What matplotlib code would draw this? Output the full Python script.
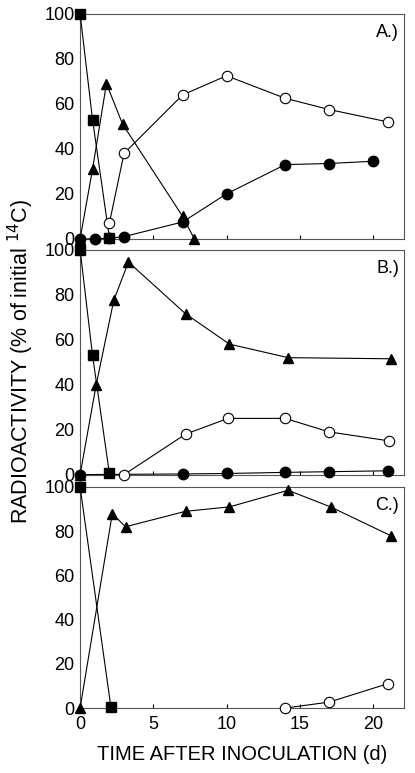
import numpy as np
import matplotlib
matplotlib.use("Agg")
import matplotlib.pyplot as plt

plt.rcParams['font.family'] = ['Liberation Sans', 'DejaVu Sans']

# panel A
a_sq_x = [0, 0.85, 2]
a_sq_y = [100, 53, 0.5]
a_tri_x = [0, 0.85, 1.8, 2.9, 7, 7.8]
a_tri_y = [0, 31, 69, 51, 10, 0]
a_open_x = [2, 3, 7, 10, 14, 17, 21]
a_open_y = [7, 38, 64, 72.5, 62.5, 57.5, 52]
a_fill_x = [0, 1, 2, 3, 7, 10, 14, 17, 20]
a_fill_y = [0, 0, 0.3, 1, 7.5, 20, 33, 33.5, 34.5]

# panel B
b_sq_x = [0, 0.85, 2]
b_sq_y = [100, 53, 0.5]
b_tri_x = [0, 1.1, 2.3, 3.3, 7.2, 10.2, 14.2, 21.2]
b_tri_y = [0, 40, 77.5, 94.5, 71.5, 58, 52, 51.5]
b_open_x = [3, 7.2, 10.1, 14, 17, 21.1]
b_open_y = [0, 18, 25, 25, 19, 15]
b_fill_x = [0, 7, 10, 14, 17, 21]
b_fill_y = [0, 0.3, 0.5, 1, 1.3, 1.7]

# panel C
c_sq_x = [0, 2.1]
c_sq_y = [100, 0.6]
c_tri_x = [0, 2.2, 3.1, 7.2, 10.2, 14.2, 17.1, 21.2]
c_tri_y = [0, 88, 82, 89, 91, 98.5, 91, 78]
c_open_x = [14, 17, 21]
c_open_y = [0, 2.7, 11]

fig = plt.figure(figsize=(4.15, 7.73), dpi=100)
boxes = [(0.193, 0.691, 0.78, 0.291),
         (0.193, 0.386, 0.78, 0.291),
         (0.193, 0.084, 0.78, 0.286)]
labels = ['A.)', 'B.)', 'C.)']
panels = [
    (a_sq_x, a_sq_y, a_tri_x, a_tri_y, a_open_x, a_open_y, a_fill_x, a_fill_y),
    (b_sq_x, b_sq_y, b_tri_x, b_tri_y, b_open_x, b_open_y, b_fill_x, b_fill_y),
    (c_sq_x, c_sq_y, c_tri_x, c_tri_y, c_open_x, c_open_y, None, None),
]

lw = 0.8
for i, (box, lab, p) in enumerate(zip(boxes, labels, panels)):
    ax = fig.add_axes(box)
    sqx, sqy, trx, tr_y, opx, opy, flx, fly = p
    ax.plot(sqx, sqy, '-s', color='black', lw=lw, ms=6.5, clip_on=False, zorder=3)
    ax.plot(trx, tr_y, '-^', color='black', lw=lw, ms=7, clip_on=False, zorder=3)
    ax.plot(opx, opy, '-o', color='black', mfc='white', mec='black', mew=0.8,
            lw=lw, ms=7.5, clip_on=False, zorder=4)
    if flx is not None:
        ax.plot(flx, fly, '-o', color='black', lw=lw, ms=7.5, clip_on=False, zorder=3)
    ax.set_xlim(0, 22.1)
    ax.set_ylim(0, 100)
    ax.set_yticks([0, 20, 40, 60, 80, 100])
    ax.set_xticks([0, 5, 10, 15, 20])
    ax.tick_params(axis='y', length=0, labelsize=13, pad=4)
    ax.tick_params(axis='x', direction='in', length=3, labelsize=13, pad=6)
    for s in ax.spines.values():
        s.set_color('#555555')
        s.set_linewidth(0.8)
    if i < 2:
        ax.tick_params(axis='x', labelbottom=False)
    ax.text(0.985, 0.955, lab, transform=ax.transAxes, ha='right', va='top', fontsize=13)
    if i == 2:
        ax.set_xlabel('TIME AFTER INOCULATION (d)', fontsize=14.5, labelpad=8)

fig.text(0.05, 0.533, 'RADIOACTIVITY (% of initial $^{14}$C)', rotation=90,
         ha='center', va='center', fontsize=15.5)

fig.savefig('out.png', dpi=100)
